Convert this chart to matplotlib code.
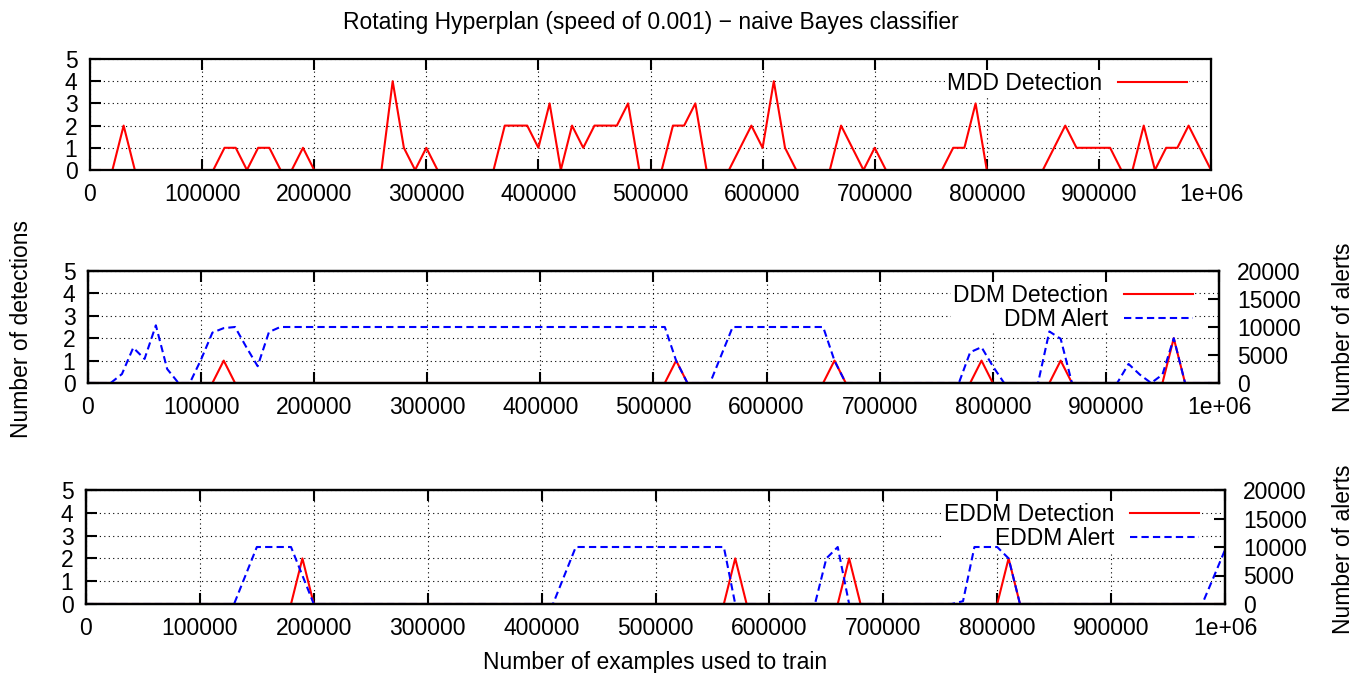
import numpy as np
import matplotlib
matplotlib.use('Agg')
import matplotlib.pyplot as plt

plt.rcParams['font.family'] = ['Liberation Sans', 'DejaVu Sans']

W, H = 1361, 673

# number of examples, sampled every 10000
examples = np.arange(0, 1000001, 10000)

mdd_detect = [0, 0, 0, 2, 0, 0, 0, 0, 0, 0,
              0, 0, 1, 1, 0, 1, 1, 0, 0, 1,
              0, 0, 0, 0, 0, 0, 0, 4, 1, 0,
              1, 0, 0, 0, 0, 0, 0, 2, 2, 2,
              1, 3, 0, 2, 1, 2, 2, 2, 3, 0,
              0, 0, 2, 2, 3, 0, 0, 0, 1, 2,
              1, 4, 1, 0, 0, 0, 0, 2, 1, 0,
              1, 0, 0, 0, 0, 0, 0, 1, 1, 3,
              0, 0, 0, 0, 0, 0, 1, 2, 1, 1,
              1, 1, 0, 0, 2, 0, 1, 1, 2, 1,
              0]

ddm_detect = [0, 0, 0, 0, 0, 0, 0, 0, 0, 0,
              0, 0, 1, 0, 0, 0, 0, 0, 0, 0,
              0, 0, 0, 0, 0, 0, 0, 0, 0, 0,
              0, 0, 0, 0, 0, 0, 0, 0, 0, 0,
              0, 0, 0, 0, 0, 0, 0, 0, 0, 0,
              0, 0, 1, 0, 0, 0, 0, 0, 0, 0,
              0, 0, 0, 0, 0, 0, 1, 0, 0, 0,
              0, 0, 0, 0, 0, 0, 0, 0, 0, 1,
              0, 0, 0, 0, 0, 0, 1, 0, 0, 0,
              0, 0, 0, 0, 0, 0, 2, 0, 0, 0,
              0]

ddm_alert = [0, 0, 0, 1600, 6300, 4300, 10300, 2500, 0, 0,
             4200, 9000, 9800, 10000, 6400, 3000, 9100, 10000, 10000, 10000,
             10000, 10000, 10000, 10000, 10000, 10000, 10000, 10000, 10000, 10000,
             10000, 10000, 10000, 10000, 10000, 10000, 10000, 10000, 10000, 10000,
             10000, 10000, 10000, 10000, 10000, 10000, 10000, 10000, 10000, 10000,
             10000, 10000, 4000, 0, 0, 0, 5000, 10000, 10000, 10000,
             10000, 10000, 10000, 10000, 10000, 10000, 4000, 0, 0, 0,
             0, 0, 0, 0, 0, 0, 0, 0, 5500, 6400,
             3000, 0, 0, 0, 0, 9200, 7900, 0, 0, 0,
             0, 0, 3400, 1500, 0, 1500, 8000, 0, 0, 0,
             0]

eddm_detect = [0, 0, 0, 0, 0, 0, 0, 0, 0, 0,
               0, 0, 0, 0, 0, 0, 0, 0, 0, 2,
               0, 0, 0, 0, 0, 0, 0, 0, 0, 0,
               0, 0, 0, 0, 0, 0, 0, 0, 0, 0,
               0, 0, 0, 0, 0, 0, 0, 0, 0, 0,
               0, 0, 0, 0, 0, 0, 0, 2, 0, 0,
               0, 0, 0, 0, 0, 0, 0, 2, 0, 0,
               0, 0, 0, 0, 0, 0, 0, 0, 0, 0,
               0, 2, 0, 0, 0, 0, 0, 0, 0, 0,
               0, 0, 0, 0, 0, 0, 0, 0, 0, 0,
               0]

eddm_alert = [0, 0, 0, 0, 0, 0, 0, 0, 0, 0,
              0, 0, 0, 0, 5000, 10000, 10000, 10000, 10000, 5000,
              0, 0, 0, 0, 0, 0, 0, 0, 0, 0,
              0, 0, 0, 0, 0, 0, 0, 0, 0, 0,
              0, 0, 5000, 10000, 10000, 10000, 10000, 10000, 10000, 10000,
              10000, 10000, 10000, 10000, 10000, 10000, 10000, 0, 0, 0,
              0, 0, 0, 0, 0, 8000, 10000, 0, 0, 0,
              0, 0, 0, 0, 0, 0, 0, 500, 10000, 10000,
              10000, 8000, 0, 0, 0, 0, 0, 0, 0, 0,
              0, 0, 0, 0, 0, 0, 0, 0, 0, 4700,
              9500]

xticks = [0, 100000, 200000, 300000, 400000, 500000, 600000, 700000, 800000, 900000, 1000000]
xtick_labels = ['0', '100000', '200000', '300000', '400000', '500000',
                '600000', '700000', '800000', '900000', '1e+06']
det_ticks = [0, 1, 2, 3, 4, 5]
alert_ticks = [0, 5000, 10000, 15000, 20000]

FS = 16.5
RED = '#ff0000'
BLUE = '#0000ff'

fig = plt.figure(figsize=(W / 100, H / 100), dpi=100)


def add_axes_px(left, right, top, bottom):
    return fig.add_axes([left / W, 1 - bottom / H, (right - left) / W, (bottom - top) / H])


def thick_spines(ax):
    for s in ax.spines.values():
        s.set_linewidth(1.6)
        s.set_zorder(5)


def style(ax):
    ax.set_xlim(0, 1000000)
    ax.set_ylim(0, 5)
    ax.set_xticks(xticks)
    ax.set_xticklabels(xtick_labels)
    ax.set_yticks(det_ticks)
    ax.tick_params(axis='both', direction='in', length=8, width=1.5, labelsize=FS)
    ax.tick_params(axis='x', top=True, pad=9.5)
    ax.tick_params(axis='y', pad=9)
    ax.grid(True, color='black', linestyle=(0, (1, 3)), linewidth=0.8)
    thick_spines(ax)


def alert_axis(ax):
    axb = ax.twinx()
    axb.set_ylim(0, 20000)
    axb.set_yticks(alert_ticks)
    axb.tick_params(axis='y', direction='in', length=8, width=1.5, labelsize=FS, pad=13)
    thick_spines(axb)
    return axb


def add_legend(ax, handles, right_px, top_px, z):
    leg = ax.legend(handles=handles, loc='upper right',
                    bbox_to_anchor=(right_px / W, 1 - top_px / H),
                    bbox_transform=fig.transFigure,
                    fontsize=FS, markerfirst=False, handlelength=3.0,
                    handletextpad=0.7, labelspacing=0.02, borderpad=0.1,
                    borderaxespad=0, frameon=True, fancybox=False)
    leg.get_frame().set_facecolor('white')
    leg.get_frame().set_edgecolor('none')
    leg.get_frame().set_alpha(1)
    leg.set_zorder(z)
    return leg


# MDD panel
ax1 = add_axes_px(90, 1211, 59, 170)
style(ax1)
l1, = ax1.plot(examples, mdd_detect, color=RED, lw=1.5, label='MDD Detection')
add_legend(ax1, [l1], 1189, 70, 5)

# DDM panel (alerts on the right axis, key box under the curves)
ax2 = add_axes_px(88, 1219, 271, 383)
style(ax2)
l2, = ax2.plot(examples, ddm_detect, color=RED, lw=1.5, label='DDM Detection')
ax2b = alert_axis(ax2)
l3, = ax2b.plot(examples, ddm_alert, color=BLUE, lw=1.5, dashes=(3.5, 2), label='DDM Alert')
add_legend(ax2b, [l2, l3], 1195, 282, 1)

# EDDM panel
ax3 = add_axes_px(86, 1225, 490, 604)
style(ax3)
l4, = ax3.plot(examples, eddm_detect, color=RED, lw=1.5, label='EDDM Detection')
ax3b = alert_axis(ax3)
l5, = ax3b.plot(examples, eddm_alert, color=BLUE, lw=1.5, dashes=(3.5, 2), label='EDDM Alert')
add_legend(ax3b, [l4, l5], 1201, 501, 1)

fig.text(651 / W, 1 - 22 / H, 'Rotating Hyperplan (speed of 0.001) \u2212 naive Bayes classifier',
         ha='center', va='center', fontsize=FS)
fig.text(22 / W, 1 - 329 / H, 'Number of detections', rotation=90,
         ha='center', va='center', fontsize=FS)
fig.text(1344 / W, 1 - 327 / H, 'Number of alerts', rotation=90,
         ha='center', va='center', fontsize=FS)
fig.text(1344 / W, 1 - 549 / H, 'Number of alerts', rotation=90,
         ha='center', va='center', fontsize=FS)
fig.text(655 / W, 1 - 662 / H, 'Number of examples used to train',
         ha='center', va='center', fontsize=FS)

fig.savefig('out.png', dpi=100)
